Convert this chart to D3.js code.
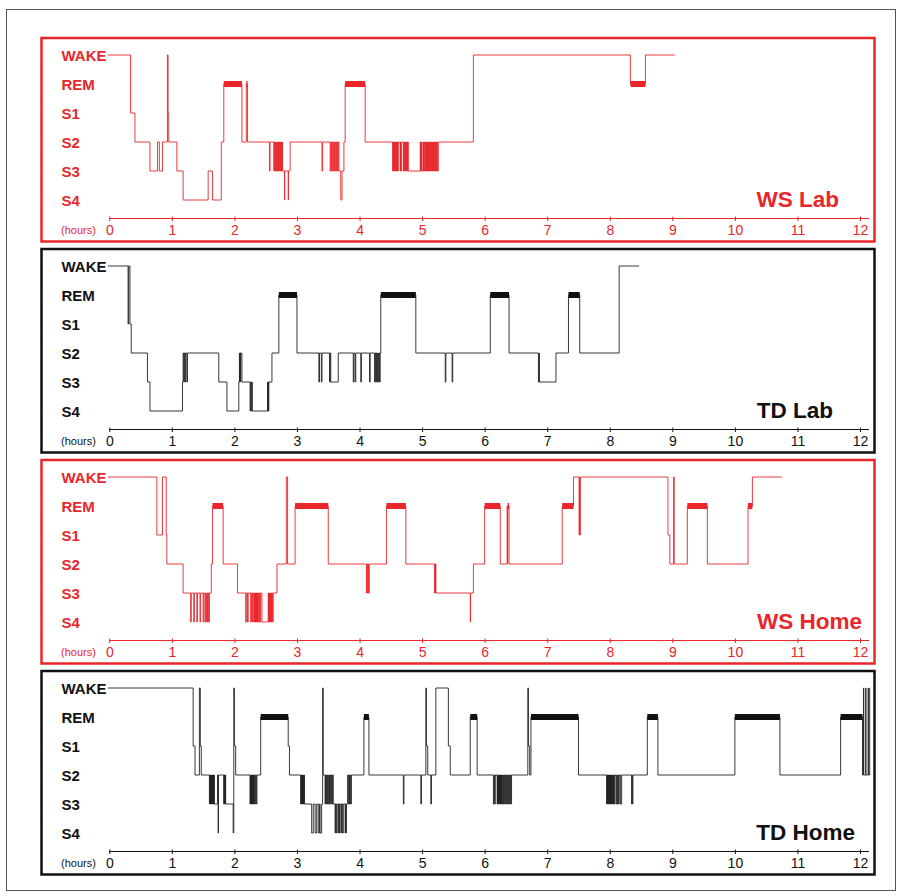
<!DOCTYPE html>
<html>
<head>
<meta charset="utf-8">
<script src="https://cdn.jsdelivr.net/npm/d3@7"></script>
<style>
  body { margin: 0; background: #fff; }
  svg { display: block; font-family: "Liberation Sans", Arial, sans-serif; }
</style>
</head>
<body>
<div class="figure"></div>
<script>
// stage order, top to bottom
const stageNames = ["WAKE", "REM", "S1", "S2", "S3", "S4"];
const W = 0, R = 1, S1 = 2, S2 = 3, S3 = 4, S4 = 5;

const hourTicks = [0, 1, 2, 3, 4, 5, 6, 7, 8, 9, 10, 11, 12];
const panelTitles = ["WS Lab", "TD Lab", "WS Home", "TD Home"];

// [hour, stage] = stage entered at that hour
const wsLabSteps = [
  [0.00, W], [0.34, S1], [0.41, S2], [0.65, S3], [0.77, S2], [0.80, S3], [0.85, S2],
  [0.93, W], [0.94, S1], [0.95, S2], [1.08, S3], [1.18, S4], [1.58, S3], [1.65, S4],
  [1.79, S2], [1.83, R], [2.12, S2], [2.19, R], [2.21, S2],
  [2.56, S3], [2.57, S2], [2.63, S3], [2.635, S2], [2.645, S3], [2.65, S2], [2.655, S3], [2.67, S2],
  [2.675, S3], [2.685, S2], [2.69, S3], [2.705, S2], [2.71, S3], [2.72, S2], [2.73, S3], [2.74, S2],
  [2.745, S3], [2.75, S2], [2.755, S3], [2.765, S2], [2.77, S3], [2.80, S4], [2.805, S3], [2.86, S4],
  [2.865, S3], [2.89, S2], [3.40, S3], [3.41, S2], [3.53, S3], [3.54, S2], [3.55, S3], [3.56, S2],
  [3.57, S3], [3.58, S2], [3.59, S3], [3.60, S2], [3.61, S3], [3.62, S2], [3.63, S3], [3.64, S2],
  [3.65, S3], [3.66, S2], [3.67, S3], [3.70, S4], [3.72, S3], [3.75, S2], [3.77, R], [4.09, S2],
  [4.53, S3], [4.535, S2], [4.54, S3], [4.545, S2], [4.55, S3], [4.555, S2], [4.56, S3], [4.565, S2],
  [4.57, S3], [4.58, S2], [4.585, S3], [4.59, S2], [4.60, S3], [4.605, S2], [4.61, S3], [4.62, S2],
  [4.65, S3], [4.655, S2], [4.66, S3], [4.67, S2], [4.70, S3], [4.705, S2], [4.71, S3], [4.72, S2],
  [4.725, S3], [4.73, S2], [4.74, S3], [4.745, S2], [4.75, S3], [4.76, S2], [4.765, S3], [4.77, S2],
  [4.78, S3],
  [4.97, S2], [4.975, S3], [4.98, S2], [4.985, S3], [4.99, S2], [5.00, S3], [5.02, S2], [5.025, S3],
  [5.03, S2], [5.035, S3], [5.05, S2], [5.055, S3], [5.06, S2], [5.065, S3], [5.07, S2], [5.08, S3],
  [5.085, S2], [5.09, S3], [5.10, S2], [5.105, S3], [5.11, S2], [5.12, S3], [5.125, S2], [5.13, S3],
  [5.14, S2], [5.145, S3], [5.15, S2], [5.16, S3], [5.165, S2], [5.17, S3], [5.18, S2], [5.185, S3],
  [5.19, S2], [5.20, S3], [5.21, S2], [5.215, S3], [5.22, S2], [5.23, S3], [5.24, S2], [5.245, S3],
  [5.26, S2], [5.82, W], [8.33, R], [8.57, W]
];
const wsLabEnd = 9.04;

const tdLabSteps = [
  [0.00, W], [0.30, S1], [0.31, W], [0.33, S1], [0.35, S2], [0.61, S3], [0.65, S4],
  [1.17, S3], [1.18, S2], [1.19, S3], [1.20, S2], [1.21, S3], [1.22, S2], [1.24, S3], [1.25, S2],
  [1.75, S3], [1.88, S4], [2.07, S3], [2.08, S2], [2.085, S3], [2.09, S2], [2.095, S3], [2.10, S2],
  [2.12, S3], [2.25, S4], [2.26, S3], [2.27, S4], [2.28, S3], [2.285, S4], [2.53, S3], [2.535, S4],
  [2.54, S3], [2.545, S4], [2.55, S3], [2.60, S2], [2.71, R], [3.00, S2], [3.35, S3], [3.36, S2],
  [3.39, S3], [3.40, S2], [3.52, S3], [3.53, S2], [3.54, S3], [3.66, S2], [3.90, S3], [3.91, S2],
  [3.93, S3], [3.94, S2], [4.02, S3], [4.03, S2], [4.16, S3], [4.17, S2], [4.24, S3], [4.25, S2],
  [4.26, S3], [4.27, S2], [4.28, S3], [4.29, S2], [4.30, S3], [4.31, S2], [4.32, S3], [4.33, S2],
  [4.34, R], [4.90, S2], [5.37, S3], [5.38, S2], [5.48, S3], [5.49, S2], [6.09, R], [6.39, S2],
  [6.86, S3], [6.87, S2], [6.875, S3], [7.14, S2], [7.34, R], [7.52, S2], [8.15, W]
];
const tdLabEnd = 8.47;

const wsHomeSteps = [
  [0.00, W], [0.76, S1], [0.85, W], [0.91, S1], [0.92, S2], [1.18, S3], [1.30, S4], [1.31, S3],
  [1.35, S4], [1.36, S3], [1.40, S4], [1.41, S3], [1.45, S4], [1.46, S3], [1.50, S4], [1.51, S3],
  [1.53, S4], [1.54, S3], [1.55, S4], [1.56, S3], [1.57, S4], [1.58, S3], [1.59, S4], [1.60, S3],
  [1.63, S2], [1.65, R], [1.82, S2], [2.05, S3], [2.18, S4], [2.19, S3], [2.21, S4], [2.22, S3],
  [2.26, S4], [2.27, S3], [2.28, S4], [2.29, S3], [2.31, S4], [2.315, S3], [2.32, S4], [2.325, S3],
  [2.33, S4], [2.335, S3], [2.34, S4], [2.345, S3], [2.35, S4], [2.355, S3], [2.36, S4], [2.365, S3],
  [2.37, S4], [2.38, S3], [2.39, S4], [2.40, S3], [2.41, S4], [2.42, S3], [2.44, S4], [2.54, S3],
  [2.545, S4], [2.55, S3], [2.555, S4], [2.56, S3], [2.57, S4], [2.575, S3], [2.58, S4], [2.59, S3],
  [2.595, S4], [2.60, S3], [2.61, S4], [2.62, S3], [2.68, S2], [2.83, W], [2.85, S2], [2.97, R],
  [3.50, S2], [4.11, S3], [4.12, S2], [4.13, S3], [4.14, S2], [4.145, S3], [4.155, S2], [4.43, R],
  [4.74, S2], [5.20, S3], [5.205, S2], [5.21, S3], [5.215, S2], [5.22, S3], [5.77, S4], [5.775, S3],
  [5.82, S2], [6.00, R], [6.25, S2], [6.36, R], [6.365, S2], [6.37, R], [6.39, S2], [7.24, R],
  [7.42, W], [7.51, S1], [7.515, W], [7.52, S1], [7.53, W], [8.93, S1], [8.96, S2], [9.02, W],
  [9.03, S2], [9.24, R], [9.56, S2], [10.21, R], [10.28, W]
];
const wsHomeEnd = 10.75;

const tdHomeSteps = [
  [0.00, W], [1.34, S1], [1.37, S2], [1.44, W], [1.455, S1], [1.47, S2],
  [1.60, S3], [1.605, S2], [1.61, S3], [1.615, S2], [1.62, S3], [1.625, S2], [1.63, S3], [1.635, S2],
  [1.64, S3], [1.645, S2], [1.65, S3], [1.655, S2], [1.66, S3], [1.665, S2], [1.67, S3], [1.675, S2],
  [1.68, S3], [1.73, S2], [1.74, S4], [1.745, S2], [1.83, S3], [1.835, S2], [1.84, S3], [1.845, S2],
  [1.85, S3], [1.855, S2], [1.86, S3], [1.98, S4], [1.99, W], [2.00, S1], [2.02, S2],
  [2.25, S3], [2.255, S2], [2.26, S3], [2.265, S2], [2.27, S3], [2.275, S2], [2.28, S3], [2.285, S2],
  [2.29, S3], [2.295, S2], [2.30, S3], [2.305, S2], [2.31, S3], [2.32, S2], [2.33, S3], [2.34, S2],
  [2.35, S3], [2.36, S2], [2.42, R], [2.86, S1], [2.88, S2],
  [3.06, S3], [3.065, S2], [3.07, S3], [3.075, S2], [3.08, S3], [3.085, S2], [3.09, S3], [3.095, S2],
  [3.10, S3], [3.105, S2], [3.11, S3], [3.115, S2], [3.12, S3],
  [3.235, S4], [3.26, S3], [3.29, S4], [3.315, S3], [3.34, S4], [3.36, S3], [3.37, S4], [3.395, S3],
  [3.41, W], [3.42, S2], [3.45, S3], [3.455, S2], [3.46, S3], [3.47, S2], [3.48, S3],
  [3.49, S2], [3.50, S3], [3.51, S2], [3.52, S3], [3.53, S2], [3.54, S3], [3.55, S2], [3.56, S3],
  [3.57, S2], [3.58, S3], [3.61, S4], [3.615, S3], [3.63, S4], [3.64, S3], [3.66, S4], [3.665, S3],
  [3.68, S4], [3.69, S3], [3.71, S4], [3.715, S3], [3.73, S4], [3.74, S3], [3.77, S4], [3.775, S3],
  [3.785, S4], [3.79, S3], [3.81, S2], [3.82, S3], [3.83, S2], [3.84, S3], [3.85, S2], [3.86, S3],
  [3.87, S2], [4.07, R], [4.15, S2], [4.70, S3], [4.71, S2], [4.98, S3], [4.99, S2], [5.06, W],
  [5.07, S1], [5.09, S2], [5.14, S3], [5.15, S2], [5.22, W], [5.42, S1], [5.45, S2], [5.77, R],
  [5.88, S2], [6.14, S3], [6.15, S2], [6.16, S3], [6.17, S2], [6.20, S3], [6.205, S2], [6.21, S3],
  [6.215, S2], [6.22, S3], [6.225, S2], [6.23, S3], [6.235, S2], [6.24, S3], [6.245, S2], [6.25, S3],
  [6.255, S2], [6.26, S3], [6.265, S2], [6.27, S3], [6.275, S2], [6.28, S3], [6.29, S2], [6.30, S3],
  [6.31, S2], [6.32, S3], [6.33, S2], [6.34, S3], [6.35, S2], [6.36, S3], [6.37, S2], [6.38, S3],
  [6.39, S2], [6.40, S3], [6.41, S2], [6.42, S3], [6.43, S2], [6.69, W], [6.70, S1], [6.72, S2],
  [6.74, R], [7.50, S2], [7.95, S3], [7.955, S2], [7.96, S3], [7.965, S2], [7.97, S3], [7.975, S2],
  [7.98, S3], [7.985, S2], [7.99, S3], [7.995, S2], [8.00, S3], [8.005, S2], [8.01, S3], [8.015, S2],
  [8.02, S3], [8.025, S2], [8.03, S3], [8.035, S2], [8.04, S3], [8.045, S2], [8.05, S3], [8.055, S2],
  [8.06, S3], [8.065, S2], [8.07, S3], [8.08, S2], [8.10, S3], [8.11, S2], [8.12, S3], [8.13, S2],
  [8.14, S3], [8.15, S2], [8.17, S3], [8.19, S2], [8.35, S3], [8.355, S2], [8.36, S3], [8.37, S2],
  [8.60, R], [8.77, S2], [10.00, R], [10.72, S2], [11.69, R], [12.04, S2], [12.055, W], [12.06, S2],
  [12.09, W], [12.095, S2], [12.13, W], [12.135, S2], [12.155, W]
];
const tdHomeEnd = 12.16;

const red = "#e8262b";
const panelStyles = [
  {ink: red, trace: red, titleRight: 839},
  {ink: "#111", trace: "#222", titleRight: 833},
  {ink: red, trace: red, titleRight: 862},
  {ink: "#111", trace: "#222", titleRight: 855}
];

const panels = [
  {title: panelTitles[0], steps: wsLabSteps, end: wsLabEnd},
  {title: panelTitles[1], steps: tdLabSteps, end: tdLabEnd},
  {title: panelTitles[2], steps: wsHomeSteps, end: wsHomeEnd},
  {title: panelTitles[3], steps: tdHomeSteps, end: tdHomeEnd}
];

const width = 902;
const height = 896;

const svg = d3.select("div.figure").append("svg")
  .attr("width", width)
  .attr("height", height);

// frame round the whole figure
svg.append("rect")
  .attr("x", 6.5).attr("y", 9.5)
  .attr("width", 889).attr("height", 881)
  .attr("fill", "none")
  .attr("stroke", "#555")
  .attr("stroke-width", 1);

const xScale = d3.scaleLinear().domain([0, 12]).range([109.3, 860]);
const yScale = d3.scalePoint().domain(stageNames).range([16.5, 161.5]);

const drawPanel = (panel, i) => {
  const style = panelStyles[i];
  const top = 38 + i * 211;
  const g = svg.append("g").attr("transform", `translate(0, ${top})`);

  g.append("rect")
    .attr("x", 41.5).attr("y", 0)
    .attr("width", 833).attr("height", 203.5)
    .attr("fill", "none")
    .attr("stroke", style.ink)
    .attr("stroke-width", 2.5);

  g.selectAll("text.stage")
    .data(stageNames)
    .enter()
    .append("text")
    .attr("class", "stage")
    .attr("x", 61.5)
    .attr("y", (d) => yScale(d) + 6)
    .attr("font-size", 15)
    .attr("font-weight", "bold")
    .attr("fill", style.ink)
    .text((d) => d);

  const last = panel.steps[panel.steps.length - 1];
  const pts = panel.steps.concat([[panel.end, last[1]]]);
  const trace = d3.line()
    .x((d) => xScale(d[0]))
    .y((d) => yScale(stageNames[d[1]]))
    .curve(d3.curveStepAfter);

  // half-pixel shift keeps the thin trace soft like the print
  const traceG = g.append("g").attr("transform", "translate(0, 0.5)");
  traceG.append("line")
    .attr("x1", 108).attr("x2", xScale(0))
    .attr("y1", yScale("WAKE")).attr("y2", yScale("WAKE"))
    .attr("stroke", style.trace);
  traceG.append("path")
    .datum(pts)
    .attr("d", trace)
    .attr("fill", "none")
    .attr("stroke", style.trace)
    .attr("stroke-width", 0.9);

  // REM periods get a thick bar
  const runs = panel.steps.map((d, k, arr) => ({
    start: d[0],
    stop: k + 1 < arr.length ? arr[k + 1][0] : panel.end,
    stage: d[1]
  }));
  g.selectAll("rect.rem")
    .data(runs.filter((r) => r.stage === R))
    .enter()
    .append("rect")
    .attr("class", "rem")
    .attr("x", (d) => xScale(d.start))
    .attr("y", yScale("REM") - 2.5)
    .attr("width", (d) => xScale(d.stop) - xScale(d.start))
    .attr("height", 6)
    .attr("fill", style.ink);

  const axisY = 180.5;
  const axis = d3.axisBottom(xScale).tickValues(hourTicks).tickSize(0);
  const axisG = g.append("g")
    .attr("transform", `translate(0, ${axisY})`)
    .call(axis);
  axisG.select(".domain").remove();
  axisG.append("line")
    .attr("x1", xScale(0)).attr("x2", xScale(12) + 9)
    .attr("stroke", style.ink)
    .attr("stroke-width", 1);
  axisG.selectAll(".tick line")
    .attr("y1", -2).attr("y2", 2.5)
    .attr("stroke", style.ink);
  axisG.selectAll(".tick text")
    .attr("y", 7)
    .attr("font-size", 14)
    .attr("font-family", "'Liberation Sans', Arial, sans-serif")
    .attr("fill", style.ink);

  g.append("text")
    .attr("x", 61)
    .attr("y", axisY + 15.5)
    .attr("font-size", 11)
    .attr("fill", style.ink)
    .text("(hours)");

  g.append("text")
    .attr("x", style.titleRight)
    .attr("y", 168.5)
    .attr("text-anchor", "end")
    .attr("font-size", 22.5)
    .attr("font-weight", "bold")
    .attr("fill", style.ink)
    .text(panel.title);
};

panels.forEach(drawPanel);
</script>
</body>
</html>
